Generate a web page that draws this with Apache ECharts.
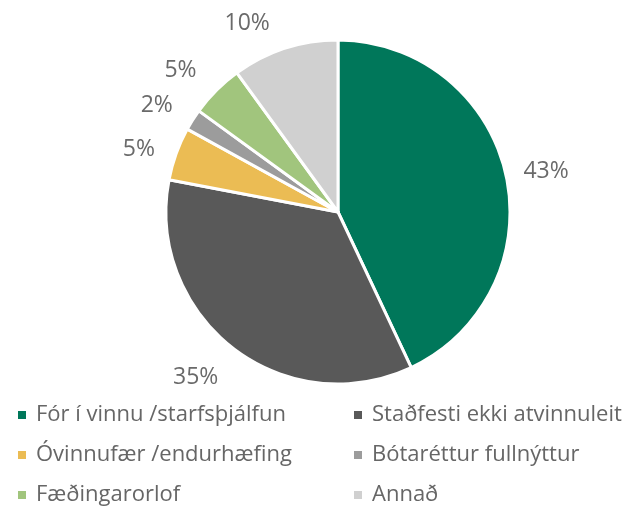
<!DOCTYPE html>
<html><head><meta charset="utf-8">
<script src="https://cdn.jsdelivr.net/npm/echarts@6/dist/echarts.min.js"></script>
<style>html,body{margin:0;padding:0;background:#fff}#c{width:642px;height:506px}</style>
</head><body><div id="c"></div>
<script>
const categories = ["Fór í vinnu /starfsþjálfun","Staðfesti ekki atvinnuleit","Óvinnufær /endurhæfing","Bótaréttur fullnýttur","Fæðingarorlof","Annað"];
const values = [43,35,5,2,5,10];
const colors = ["#00775A","#595959","#EBBC54","#9C9C9C","#A1C57D","#D0D0D0"];
const FONT = "'Open Sans', sans-serif";
// label placement tweaks (layout only, not data)
const labelLen = [16,38,14,26,28,26];
const labelLen2 = [-3,-14,3,-7,-5,2];
const chart = echarts.init(document.getElementById('c'));
const legendBase = {
  orient:'vertical', icon:'rect', itemWidth:10, itemHeight:10, itemGap:18, padding:0, height:130,
  textStyle:{color:'#666', fontSize:22, fontFamily:FONT, padding:[0,0,0,4]},
  selectedMode:false
};
chart.setOption({
  animation:false,
  color: colors,
  legend:[
    Object.assign({}, legendBase, {left:16, top:404, data:[categories[0],categories[2],categories[4]]}),
    Object.assign({}, legendBase, {left:352, top:404, data:[categories[1],categories[3],categories[5]]})
  ],
  series:[{
    type:'pie', center:[338,212], radius:172, startAngle:90, clockwise:true,
    avoidLabelOverlap:false,
    itemStyle:{borderColor:'#fff', borderWidth:3},
    label:{show:true, position:'outside', formatter:'{c}%', color:'#6a6a6a', fontSize:23, fontFamily:FONT},
    labelLine:{show:false, length:18, length2:0},
    emphasis:{disabled:true},
    data: categories.map((n,i)=>({name:n, value:values[i], labelLine:{show:false, length:labelLen[i], length2:labelLen2[i]}}))
  }]
});
</script></body></html>
